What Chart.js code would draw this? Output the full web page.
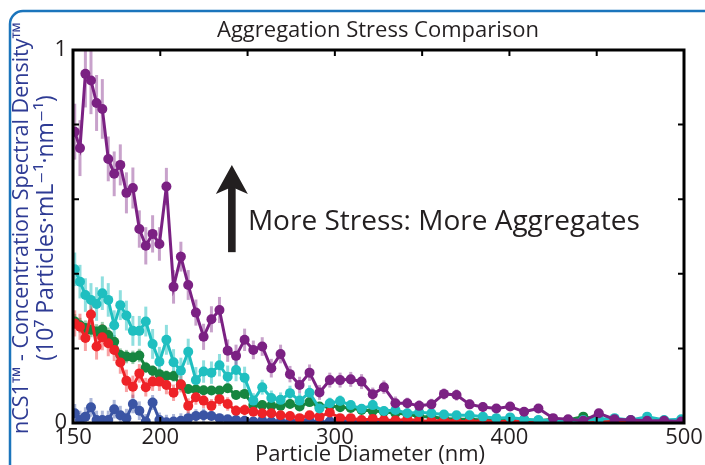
<!DOCTYPE html>
<html>
<head>
<meta charset="utf-8">
<script src="https://cdn.jsdelivr.net/npm/chart.js@4"></script>
<style>
  html, body { margin: 0; padding: 0; background: #fff; }
  #wrap { width: 705px; height: 465px; position: relative; overflow: hidden; }
</style>
</head>
<body>
<div id="wrap"><canvas id="chart" width="705" height="465"></canvas></div>
<script>
// Particle diameter bins (nm)
const diameters = [151.0, 154.0, 157.1, 160.3, 163.5, 166.8, 170.2, 173.6, 177.1, 180.6,
  184.3, 188.0, 191.7, 195.6, 199.5, 203.5, 207.6, 211.8, 216.0, 220.4,
  224.8, 229.3, 233.9, 238.6, 243.4, 248.3, 253.3, 258.4, 263.6, 268.9,
  274.3, 279.8, 285.5, 291.2, 297.1, 303.0, 309.1, 315.3, 321.7, 328.1,
  334.7, 341.5, 348.3, 355.3, 362.5, 369.7, 377.2, 384.8, 392.5, 400.4,
  408.4, 416.6, 425.0, 433.6, 442.3, 451.2, 460.2, 469.5, 478.9, 488.6, 498.4];

// Concentration spectral density (10^7 particles/mL/nm)
const purpleVals = [0.781, 0.737, 0.936, 0.918, 0.858, 0.842, 0.708, 0.668, 0.692, 0.617,
  0.630, 0.520, 0.475, 0.507, 0.480, 0.634, 0.365, 0.446, 0.370, 0.296,
  0.231, 0.278, 0.303, 0.194, 0.180, 0.223, 0.196, 0.205, 0.147, 0.185,
  0.131, 0.102, 0.135, 0.082, 0.115, 0.115, 0.117, 0.111, 0.077, 0.096,
  0.053, 0.053, 0.046, 0.050, 0.078, 0.075, 0.050, 0.043, 0.039, 0.044,
  0.030, 0.039, 0.013, 0.010, 0.006, 0.026, 0.010, 0.008, 0.006, 0.006, 0.004];
const tealVals = [0.412, 0.379, 0.343, 0.330, 0.319, 0.348, 0.330, 0.262, 0.316, 0.288,
  0.247, 0.247, 0.272, 0.212, 0.164, 0.223, 0.163, 0.140, 0.191, 0.115,
  0.138, 0.135, 0.155, 0.124, 0.142, 0.121, 0.060, 0.096, 0.067, 0.062,
  0.080, 0.060, 0.081, 0.039, 0.053, 0.059, 0.048, 0.038, 0.048, 0.032,
  0.035, 0.026, 0.029, 0.026, 0.023, 0.021, 0.021, 0.017, 0.013, 0.015,
  0.010, 0.008, 0.006, 0.006, 0.008, 0.010, 0.013, 0.008, 0.017, 0.008, 0.010];
const greenVals = [0.272, 0.262, 0.255, 0.250, 0.245, 0.251, 0.236, 0.218, 0.182, 0.178,
  0.176, 0.181, 0.149, 0.140, 0.131, 0.126, 0.126, 0.102, 0.091, 0.090,
  0.088, 0.087, 0.087, 0.093, 0.075, 0.078, 0.048, 0.048, 0.046, 0.046,
  0.051, 0.044, 0.056, 0.044, 0.046, 0.042, 0.040, 0.035, 0.032, 0.030,
  0.026, 0.024, 0.017, 0.017, 0.012, 0.010, 0.010, 0.008, 0.008, 0.010,
  0.008, 0.006, 0.010, 0.008, 0.017, 0.008, 0.006, 0.006, 0.005, 0.006, 0.004];
const redVals = [0.267, 0.258, 0.228, 0.291, 0.205, 0.230, 0.214, 0.196, 0.162, 0.113,
  0.097, 0.133, 0.096, 0.111, 0.111, 0.102, 0.081, 0.104, 0.046, 0.069,
  0.060, 0.046, 0.064, 0.051, 0.033, 0.035, 0.030, 0.026, 0.026, 0.021,
  0.019, 0.013, 0.021, 0.017, 0.028, 0.013, 0.013, 0.008, 0.011, 0.008,
  0.007, 0.010, 0.006, 0.005, 0.008, 0.005, 0.004, 0.006, 0.004, 0.005,
  0.008, 0.004, 0.003, 0.004, 0.003, 0.006, 0.003, 0.004, 0.003, 0.002, 0.003];
const blueVals = [0.026, 0.008, 0.017, 0.042, 0.008, 0.008, 0.008, 0.037, 0.021, 0.013,
  0.051, 0.033, 0.004, 0.055, 0.008, 0.002, 0.004, 0.006, 0.013, 0.019,
  0.021, 0.019, 0.013, 0.010, 0.008, 0.006, 0.004, 0.006, 0.004, 0.003,
  0.004, 0.008, 0.006, 0.003, 0.004, 0.008, 0.005, 0.003, 0.002, 0.003,
  0.002, 0.002, 0.001, 0.002, 0.003, 0.002, 0.001, 0.002, 0.002, 0.001,
  0.002, 0.001, 0.002, 0.001, 0.002, 0.001, 0.002, 0.001, 0.001, 0.002, 0.001];

// error bar half-lengths
const purpleErr = [0.075, 0.075, 0.09, 0.09, 0.075, 0.08, 0.06, 0.06, 0.055, 0.055,
  0.055, 0.05, 0.05, 0.05, 0.045, 0.05, 0.045, 0.04, 0.04, 0.035,
  0.035, 0.035, 0.035, 0.03, 0.03, 0.03, 0.025, 0.025, 0.025, 0.025,
  0.022, 0.022, 0.022, 0.02, 0.02, 0.02, 0.02, 0.02, 0.018, 0.018,
  0.018, 0.015, 0.015, 0.015, 0.015, 0.015, 0.013, 0.013, 0.012, 0.012,
  0.012, 0.012, 0.01, 0.01, 0.01, 0.01, 0.01, 0.008, 0.008, 0.008, 0.008];
const tealErr = [0.045, 0.045, 0.045, 0.045, 0.045, 0.045, 0.045, 0.04, 0.04, 0.04,
  0.04, 0.04, 0.04, 0.04, 0.04, 0.04, 0.035, 0.035, 0.035, 0.035,
  0.03, 0.03, 0.03, 0.03, 0.03, 0.03, 0.02, 0.02, 0.02, 0.02,
  0.02, 0.02, 0.02, 0.015, 0.015, 0.015, 0.012, 0.012, 0.012, 0.012,
  0.01, 0.01, 0.01, 0.01, 0.01, 0.01, 0.01, 0.008, 0.008, 0.008,
  0.008, 0.008, 0.008, 0.008, 0.008, 0.008, 0.008, 0.008, 0.008, 0.008, 0.008];
const greenErr = [0.02, 0.02, 0.02, 0.02, 0.02, 0.02, 0.02, 0.018, 0.018, 0.018,
  0.018, 0.018, 0.015, 0.015, 0.015, 0.015, 0.015, 0.015, 0.012, 0.012,
  0.012, 0.012, 0.012, 0.012, 0.012, 0.012, 0.01, 0.01, 0.01, 0.01,
  0.01, 0.01, 0.01, 0.008, 0.008, 0.008, 0.008, 0.008, 0.008, 0.008,
  0.006, 0.006, 0.006, 0.006, 0.006, 0.006, 0.006, 0.005, 0.005, 0.005,
  0.005, 0.005, 0.005, 0.005, 0.005, 0.005, 0.005, 0.005, 0.005, 0.005, 0.005];
const redErr = [0.035, 0.035, 0.035, 0.035, 0.035, 0.035, 0.035, 0.03, 0.03, 0.03,
  0.03, 0.025, 0.025, 0.025, 0.025, 0.025, 0.022, 0.022, 0.02, 0.02,
  0.02, 0.018, 0.018, 0.018, 0.015, 0.015, 0.012, 0.012, 0.012, 0.01,
  0.01, 0.01, 0.01, 0.01, 0.01, 0.008, 0.008, 0.008, 0.008, 0.008,
  0.006, 0.006, 0.006, 0.006, 0.006, 0.005, 0.005, 0.005, 0.005, 0.005,
  0.005, 0.005, 0.004, 0.004, 0.004, 0.004, 0.004, 0.004, 0.004, 0.004, 0.004];
const blueErr = [0.025, 0.025, 0.025, 0.025, 0.025, 0.025, 0.025, 0.025, 0.025, 0.025,
  0.025, 0.025, 0.02, 0.02, 0.02, 0.02, 0.02, 0.02, 0.018, 0.018,
  0.018, 0.012, 0.012, 0.01, 0.01, 0.008, 0.008, 0.008, 0.008, 0.006,
  0.006, 0.006, 0.006, 0.006, 0.006, 0.006, 0.005, 0.005, 0.005, 0.005,
  0.004, 0.004, 0.004, 0.004, 0.004, 0.004, 0.004, 0.004, 0.004, 0.004,
  0.004, 0.004, 0.004, 0.004, 0.004, 0.004, 0.004, 0.004, 0.004, 0.004, 0.004];

const xTickLabels = [150, 200, 300, 400, 500];
const yTickLabels = [0, 1];

const FONT = "'Open Sans', 'DejaVu Sans', sans-serif";
const INK = '#231f20';

function makeSet(label, vals, errs, color, barColor) {
  return {
    label: label,
    data: vals.map((v, i) => ({ x: diameters[i], y: v })),
    errors: errs,
    barColor: barColor,
    borderColor: color,
    backgroundColor: color,
    borderWidth: 3,
    pointRadius: 5,
    pointBorderWidth: 0,
    pointHoverRadius: 5,
    tension: 0
  };
}

// first dataset is drawn on top
const datasets = [
  makeSet('High stress', purpleVals, purpleErr, '#7b2183', 'rgba(123,33,131,0.42)'),
  makeSet('Medium-high stress', tealVals, tealErr, '#1fbfc0', 'rgba(31,191,192,0.5)'),
  makeSet('Medium stress', redVals, redErr, '#ee2227', 'rgba(238,34,39,0.42)'),
  makeSet('Low stress', greenVals, greenErr, '#16853f', 'rgba(22,133,63,0.42)'),
  makeSet('Control', blueVals, blueErr, '#3a54a4', 'rgba(58,84,164,0.42)')
];

const decor = {
  id: 'decor',
  beforeDraw(chart) {
    const ctx = chart.ctx;
    // blue rounded frame
    ctx.save();
    ctx.strokeStyle = '#1b75bc';
    ctx.lineWidth = 2.5;
    ctx.beginPath();
    ctx.moveTo(10, 470);
    ctx.lineTo(10, 24);
    ctx.arcTo(10, 11, 23, 11, 13);
    ctx.lineTo(710, 11);
    ctx.stroke();
    ctx.restore();
  },
  beforeDatasetsDraw(chart) {
    const ctx = chart.ctx, a = chart.chartArea;
    const xs = chart.scales.x, ys = chart.scales.y;
    ctx.save();
    ctx.beginPath();
    ctx.rect(a.left, a.top, a.right - a.left, a.bottom - a.top);
    ctx.clip();
    ctx.lineWidth = 3;
    for (let d = chart.data.datasets.length - 1; d >= 0; d--) {
      const ds = chart.data.datasets[d];
      ctx.strokeStyle = ds.barColor;
      ds.data.forEach((p, i) => {
        const e = ds.errors[i];
        const px = xs.getPixelForValue(p.x);
        ctx.beginPath();
        ctx.moveTo(px, ys.getPixelForValue(p.y + e));
        ctx.lineTo(px, ys.getPixelForValue(p.y - e));
        ctx.stroke();
      });
    }
    ctx.restore();
  },
  afterDatasetsDraw(chart) {
    const ctx = chart.ctx, a = chart.chartArea;
    const xs = chart.scales.x, ys = chart.scales.y;
    ctx.save();
    // axes box
    ctx.strokeStyle = '#000';
    ctx.lineWidth = 3;
    ctx.strokeRect(a.left, a.top, a.right - a.left, a.bottom - a.top);
    // inward tick marks
    ctx.lineWidth = 2;
    ctx.beginPath();
    xs.ticks.forEach(t => {
      if (t.value <= xs.min || t.value >= xs.max) return;
      const px = xs.getPixelForValue(t.value);
      ctx.moveTo(px, a.bottom); ctx.lineTo(px, a.bottom - 6);
      ctx.moveTo(px, a.top); ctx.lineTo(px, a.top + 6);
    });
    ys.ticks.forEach(t => {
      if (t.value <= ys.min || t.value >= ys.max) return;
      const py = ys.getPixelForValue(t.value);
      ctx.moveTo(a.left, py); ctx.lineTo(a.left + 6, py);
      ctx.moveTo(a.right, py); ctx.lineTo(a.right - 6, py);
    });
    ctx.stroke();

    // arrow annotation
    const ax = xs.getPixelForValue(241);
    const tip = ys.getPixelForValue(0.692);
    const base = ys.getPixelForValue(0.458);
    ctx.fillStyle = INK;
    ctx.fillRect(ax - 3.8, tip + 20, 7.6, base - tip - 20);
    ctx.beginPath();
    ctx.moveTo(ax, tip);
    ctx.lineTo(ax + 16, tip + 29);
    ctx.lineTo(ax, tip + 22);
    ctx.lineTo(ax - 16, tip + 29);
    ctx.closePath();
    ctx.fill();
    ctx.font = '28px ' + FONT;
    ctx.textAlign = 'left';
    ctx.textBaseline = 'middle';
    ctx.fillText('More Stress: More Aggregates', xs.getPixelForValue(250.2), ys.getPixelForValue(0.539));

    // title
    ctx.font = '22px ' + FONT;
    ctx.textAlign = 'center';
    ctx.fillText('Aggregation Stress Comparison', 378, 31);
    // x axis title
    ctx.fillText('Particle Diameter (nm)', 370, 455);
    // y axis title
    ctx.fillStyle = '#2e3b94';
    ctx.translate(22, 228);
    ctx.rotate(-Math.PI / 2);
    ctx.font = '21.5px ' + FONT;
    ctx.fillText('nCS1\u2122 - Concentration Spectral Density\u2122', 0, 0);
    ctx.font = '23px ' + FONT;
    ctx.fillText('(10\u2077 Particles\u00b7mL\u207b\u00b9\u00b7nm\u207b\u00b9)', 0, 24);
    ctx.restore();
  }
};

new Chart(document.getElementById('chart').getContext('2d'), {
  type: 'line',
  data: { datasets: datasets },
  plugins: [decor],
  options: {
    responsive: false,
    animation: false,
    events: [],
    layout: { padding: { top: 50, right: 21, bottom: 0, left: 0 } },
    plugins: { legend: { display: false }, tooltip: { enabled: false } },
    scales: {
      x: {
        type: 'linear',
        min: 150,
        max: 500,
        grid: { display: false, drawTicks: false },
        border: { display: false },
        ticks: {
          stepSize: 50,
          autoSkip: false,
          maxRotation: 0,
          padding: 2,
          color: INK,
          font: { family: FONT, size: 22 },
          callback: v => xTickLabels.includes(v) ? String(v) : ''
        },
        afterFit: s => { s.height = 42; }
      },
      y: {
        min: 0,
        max: 1,
        grid: { display: false, drawTicks: false },
        border: { display: false },
        ticks: {
          stepSize: 0.2,
          padding: 6,
          color: INK,
          font: { family: FONT, size: 22 },
          callback: v => yTickLabels.includes(v) ? String(v) : ''
        },
        afterFit: s => { s.width = 73; }
      }
    }
  }
});
</script>
</body>
</html>
